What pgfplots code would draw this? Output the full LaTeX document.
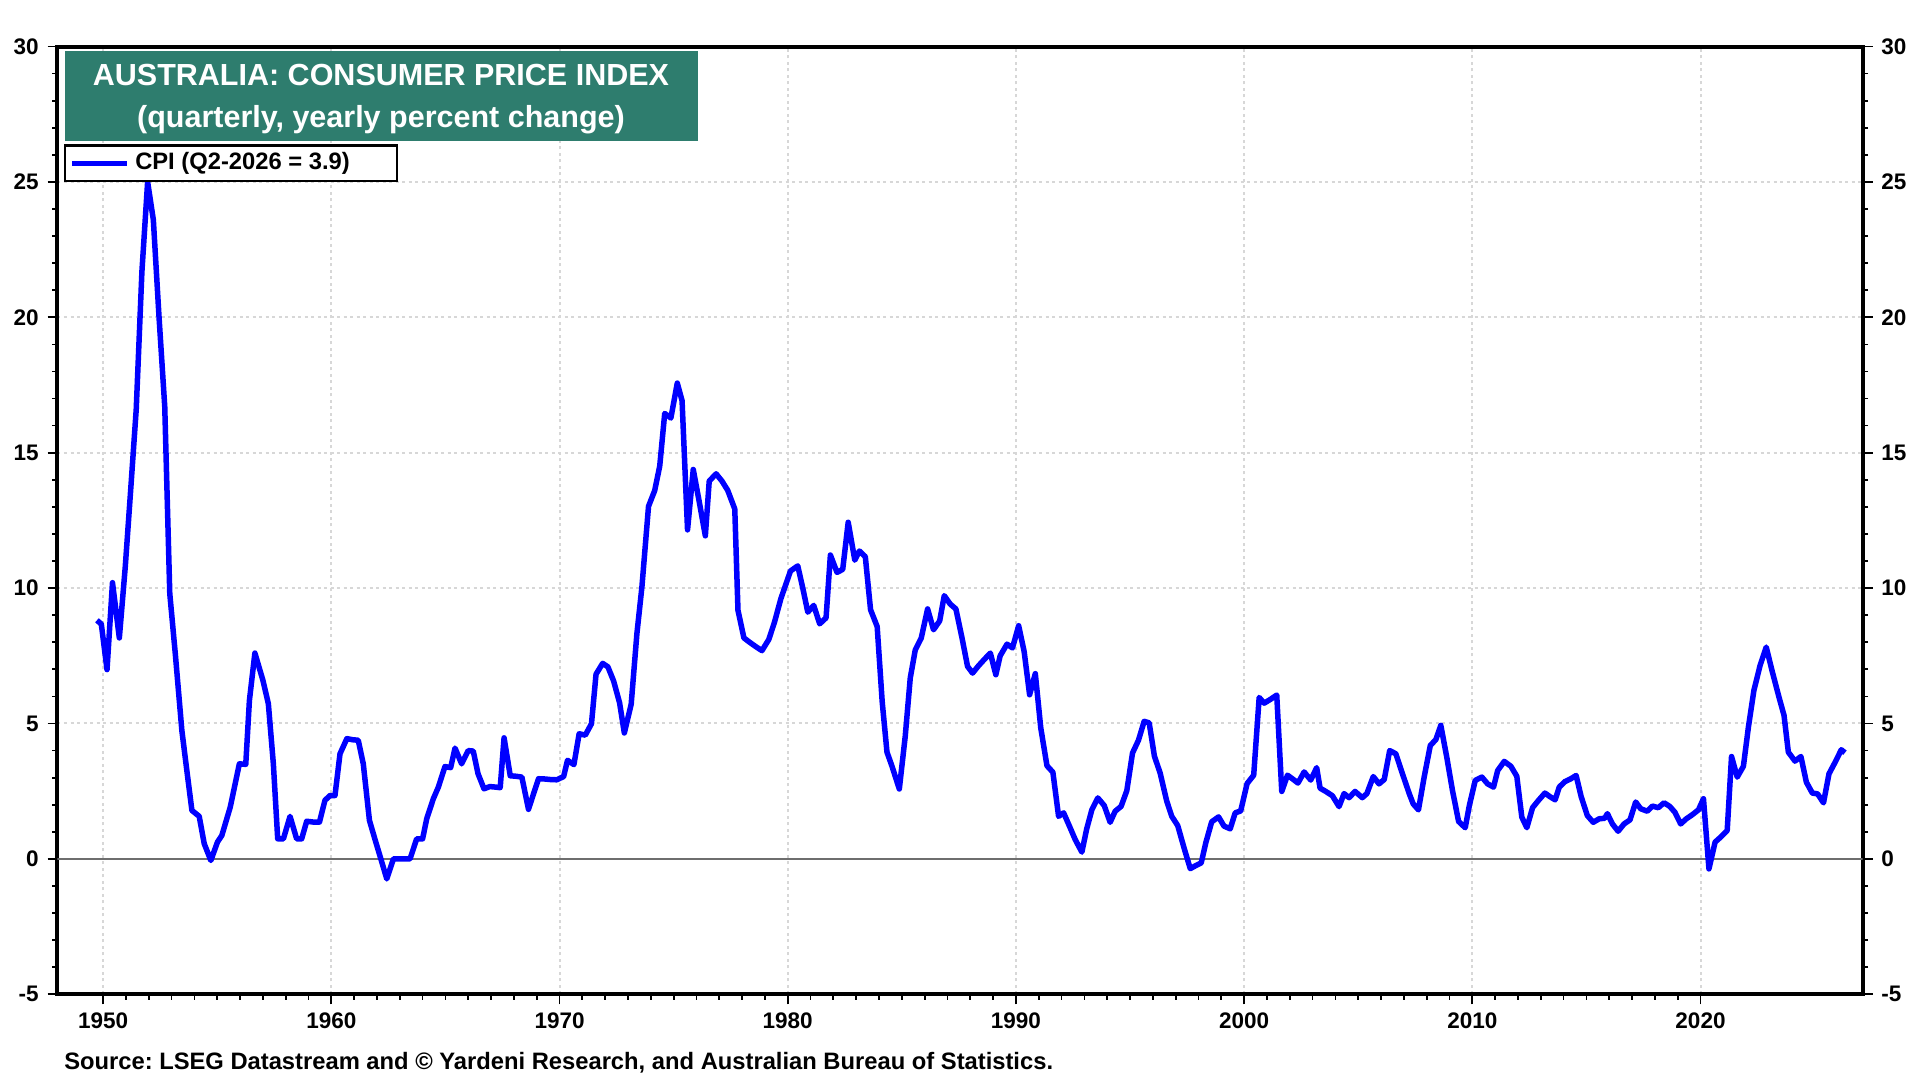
\documentclass[border=0pt]{standalone}
\usepackage{fontspec}
\setmainfont{Liberation Sans}
\usepackage{pgfplots}
\usepackage{pgfplotstable}
\pgfplotsset{compat=1.18}
\definecolor{titlebg}{RGB}{46,125,110}
\definecolor{gridc}{RGB}{215,215,215}
\definecolor{zeroc}{RGB}{110,110,110}
\definecolor{cpiblue}{RGB}{0,0,255}
\frenchspacing

\pgfplotstableread{
x y
1949.73 8.81
1949.92 8.67
1950.17 6.99
1950.41 10.2
1950.71 8.16
1950.97 10.79
1951.19 13.42
1951.45 16.6
1951.70 21.7
1951.95 25.0
1952.20 23.6
1952.45 20.0
1952.70 16.7
1952.92 9.8
1953.17 7.5
1953.45 4.74
1953.67 3.25
1953.89 1.79
1954.21 1.57
1954.43 0.56
1954.72 -0.06
1955.01 0.62
1955.20 0.86
1955.57 1.91
1955.97 3.51
1956.25 3.49
1956.41 5.85
1956.65 7.6
1957.00 6.6
1957.24 5.73
1957.46 3.5
1957.65 0.74
1957.90 0.74
1958.19 1.57
1958.48 0.74
1958.70 0.74
1958.92 1.39
1959.20 1.36
1959.48 1.36
1959.72 2.16
1959.94 2.34
1960.16 2.34
1960.38 3.88
1960.68 4.44
1960.93 4.40
1961.18 4.38
1961.40 3.51
1961.67 1.42
1961.92 0.7
1962.17 0.0
1962.43 -0.74
1962.72 0.0
1963.00 0.0
1963.25 0.0
1963.45 0.0
1963.74 0.74
1964.00 0.74
1964.18 1.48
1964.47 2.22
1964.69 2.65
1964.98 3.41
1965.23 3.37
1965.42 4.09
1965.71 3.51
1966.00 4.0
1966.22 3.98
1966.43 3.14
1966.69 2.59
1966.95 2.67
1967.20 2.65
1967.40 2.63
1967.57 4.47
1967.84 3.07
1968.10 3.05
1968.35 3.02
1968.64 1.83
1968.86 2.4
1969.08 2.96
1969.35 2.95
1969.60 2.93
1969.88 2.92
1970.18 3.04
1970.35 3.64
1970.63 3.48
1970.86 4.62
1971.13 4.57
1971.40 4.99
1971.60 6.82
1971.89 7.22
1972.12 7.09
1972.37 6.57
1972.63 5.77
1972.84 4.65
1973.14 5.71
1973.39 8.31
1973.61 10.04
1973.90 13.02
1974.17 13.6
1974.39 14.5
1974.61 16.45
1974.88 16.28
1975.16 17.57
1975.37 16.92
1975.61 12.15
1975.86 14.38
1976.12 13.2
1976.39 11.93
1976.56 13.95
1976.86 14.22
1977.12 13.95
1977.37 13.61
1977.68 12.92
1977.82 9.18
1978.08 8.16
1978.33 8.0
1978.58 7.85
1978.87 7.69
1979.17 8.1
1979.42 8.74
1979.70 9.61
1980.12 10.63
1980.44 10.82
1980.66 10.0
1980.88 9.11
1981.14 9.36
1981.40 8.68
1981.68 8.9
1981.87 11.22
1982.16 10.58
1982.41 10.69
1982.65 12.43
1982.94 11.03
1983.14 11.37
1983.40 11.16
1983.63 9.2
1983.92 8.58
1984.14 5.8
1984.35 3.94
1984.57 3.42
1984.89 2.58
1985.15 4.53
1985.37 6.68
1985.59 7.72
1985.85 8.15
1986.13 9.23
1986.39 8.46
1986.66 8.79
1986.86 9.72
1987.12 9.41
1987.37 9.23
1987.64 8.15
1987.88 7.11
1988.10 6.86
1988.36 7.13
1988.63 7.38
1988.88 7.6
1989.12 6.8
1989.31 7.5
1989.61 7.93
1989.85 7.79
1990.12 8.61
1990.36 7.66
1990.60 6.06
1990.85 6.84
1991.09 4.83
1991.36 3.44
1991.62 3.2
1991.87 1.57
1992.09 1.7
1992.35 1.2
1992.60 0.71
1992.89 0.25
1993.10 1.1
1993.33 1.82
1993.59 2.25
1993.87 1.97
1994.13 1.35
1994.35 1.76
1994.61 1.94
1994.86 2.52
1995.11 3.91
1995.37 4.38
1995.62 5.08
1995.84 5.02
1996.07 3.79
1996.32 3.17
1996.61 2.13
1996.83 1.57
1997.09 1.23
1997.39 0.34
1997.64 -0.36
1997.88 -0.25
1998.12 -0.15
1998.32 0.59
1998.58 1.37
1998.88 1.55
1999.12 1.21
1999.39 1.11
1999.61 1.7
1999.85 1.77
2000.13 2.78
2000.42 3.09
2000.66 5.96
2000.88 5.75
2001.17 5.9
2001.43 6.05
2001.65 2.49
2001.90 3.09
2002.13 2.95
2002.36 2.8
2002.63 3.21
2002.92 2.91
2003.18 3.37
2003.33 2.61
2003.58 2.49
2003.87 2.33
2004.16 1.93
2004.38 2.41
2004.60 2.26
2004.86 2.49
2005.18 2.26
2005.38 2.41
2005.66 3.04
2005.91 2.77
2006.14 2.93
2006.38 4.0
2006.65 3.88
2006.94 3.14
2007.24 2.4
2007.41 2.03
2007.64 1.81
2007.89 3.02
2008.16 4.19
2008.40 4.4
2008.62 4.93
2008.88 3.76
2009.13 2.53
2009.40 1.38
2009.69 1.15
2009.87 1.97
2010.13 2.9
2010.42 3.02
2010.67 2.77
2010.93 2.65
2011.11 3.26
2011.40 3.6
2011.69 3.42
2011.95 3.05
2012.17 1.54
2012.39 1.15
2012.64 1.89
2012.90 2.16
2013.18 2.43
2013.40 2.3
2013.63 2.18
2013.81 2.65
2014.05 2.85
2014.30 2.95
2014.55 3.08
2014.77 2.3
2015.04 1.6
2015.30 1.35
2015.56 1.48
2015.80 1.5
2015.92 1.67
2016.14 1.29
2016.39 1.02
2016.65 1.29
2016.91 1.44
2017.16 2.1
2017.38 1.85
2017.67 1.76
2017.89 1.95
2018.15 1.89
2018.40 2.07
2018.65 1.94
2018.88 1.72
2019.13 1.29
2019.38 1.48
2019.64 1.63
2019.91 1.81
2020.13 2.22
2020.37 -0.37
2020.64 0.62
2020.88 0.8
2021.17 1.05
2021.36 3.78
2021.61 3.02
2021.88 3.42
2022.10 4.87
2022.34 6.22
2022.61 7.14
2022.88 7.82
2023.15 6.9
2023.44 5.97
2023.66 5.3
2023.85 3.94
2024.14 3.61
2024.40 3.78
2024.64 2.83
2024.90 2.43
2025.13 2.4
2025.39 2.07
2025.63 3.14
2025.90 3.57
2026.17 4.03
2026.33 3.92
}\cpidata

\begin{document}
\begin{tikzpicture}
\pgfplotsset{
  common/.style={
    at={(0pt,0pt)}, anchor=south west,
    scale only axis, width=722pt, height=379.1pt,
    xmin=1948, xmax=2027.1, ymin=-5, ymax=30,
    ytick={-5,0,5,10,15,20,25,30},
    minor y tick num=4,
    tick align=outside,
    major tick length=4pt,
    minor tick length=2.2pt,
    tick style={black, line width=0.7pt},
    /pgf/number format/assume math mode=true,
    /pgf/number format/1000 sep={},
    ticklabel style={font=\bfseries\fontsize{9}{10}\selectfont},
  }
}
\begin{axis}[
  common,
  axis line style={line width=1.6pt},
  xtick={1950,1960,1970,1980,1990,2000,2010,2020},
  minor x tick num=9,
  xtick pos=bottom,
  ytick pos=left,
  xmajorgrids, ymajorgrids,
  grid style={gridc, line width=0.8pt, dash pattern=on 1.2pt off 1.4pt},
]
\addplot[zeroc, line width=0.6pt, forget plot] coordinates {(1948,0) (2027.1,0)};
\addplot[cpiblue, line width=2.2pt, line join=round, no marks] table[x=x, y=y] {\cpidata};
\end{axis}
\begin{axis}[
  common,
  axis line style={draw=none},
  xtick=\empty,
  ytick pos=right,
]
\end{axis}

% title box
\fill[titlebg] (3pt,341.3pt) rectangle (256.2pt,377.3pt);
\node[white, font=\bfseries\fontsize{12.2}{14}\selectfont] at (129.4pt,367.8pt) {AUSTRALIA: CONSUMER PRICE INDEX};
\node[white, font=\bfseries\fontsize{12.2}{14}\selectfont] at (129.4pt,349.9pt) {(quarterly, yearly percent change)};

% legend
\draw[black, line width=1pt, fill=white] (3pt,325.2pt) rectangle (135.7pt,339.4pt);
\draw[cpiblue, line width=2.2pt] (5.8pt,332.3pt) -- (27.8pt,332.3pt);
\node[anchor=west, inner sep=0pt, font=\bfseries\fontsize{9.5}{11}\selectfont] at (30.9pt,332.3pt) {CPI (Q2-2026 = 3.9)};

% source
\node[anchor=west, inner sep=0pt, font=\bfseries\fontsize{9.5}{11}\selectfont] at (2.5pt,-27.2pt) {Source: LSEG Datastream and © Yardeni Research, and Australian Bureau of Statistics.};

\pgfresetboundingbox
\path[use as bounding box] (-23pt,-34.3pt) rectangle (745pt,397.7pt);
\end{tikzpicture}
\end{document}
